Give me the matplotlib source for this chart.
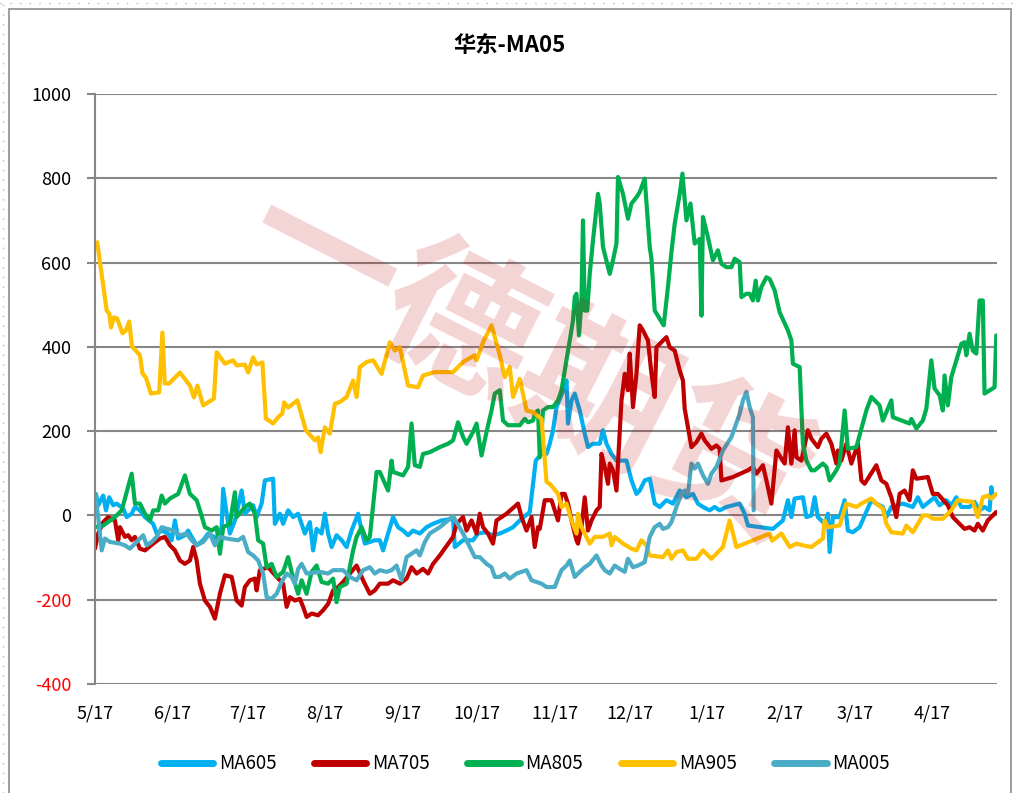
import matplotlib
matplotlib.use('Agg')
import matplotlib.pyplot as plt
from matplotlib.lines import Line2D
from matplotlib.patches import Rectangle

plt.rcParams['font.family'] = ['Liberation Sans Narrow', 'Noto Sans CJK SC', 'DejaVu Sans']
plt.rcParams['axes.unicode_minus'] = False

# x = days since 5/1, y = spread value
month_ticks = [0, 31, 61, 92, 123, 153, 184, 214, 245, 276, 304, 335]
month_labels = ['5/17', '6/17', '7/17', '8/17', '9/17', '10/17', '11/17',
                '12/17', '1/17', '2/17', '3/17', '4/17']

ma605_days = [0.4, 1.3, 3.3, 4.4, 5.7, 7.3, 8.7, 11.3, 12.7, 14.7, 16, 18, 20, 23.3, 24.7, 26.7,
              29.3, 30.7, 32, 33.3, 36, 37.3, 38.7, 40.7, 43.3, 45.3, 48.7, 50.7, 51.3, 52.7,
              54, 56, 58.7, 60, 63.3, 64.7, 66.7, 68, 71.3, 72, 74, 75.3, 77.3, 79.3, 81.3,
              84, 86, 87.3, 88.7, 90.7, 92, 93.3, 94.7, 96.7, 98.7, 100.7, 102.7, 105.3,
              106.7, 108, 112, 114, 115.3, 117.3, 119.3, 121.3, 123.3, 125.3, 127.3, 130,
              132.7, 135.3, 138.7, 143.3, 144, 147.3, 151.3, 153.3, 156, 159.3, 162, 164.7,
              167.3, 170, 174, 176.4, 178.7, 180.7, 182, 183.3, 184.7, 188, 188.7, 189.3,
              190.7, 192, 194, 196, 197.3, 199.3, 202, 203.3, 204.7, 206.7, 208.7, 212.7,
              214.7, 216.7, 218, 220, 222, 224, 226, 228.7, 231.3, 234, 236.7, 239.3, 241.3,
              243.3, 246, 248, 250, 252.7, 258, 260, 261.3, 271.3, 275.3, 277.3, 278.7, 280,
              283.3, 284.7, 286.7, 288, 289.3, 292, 293.3, 294, 295.3, 298, 300, 301.3,
              303.3, 306, 310.7, 312.7, 315.3, 316.7, 318.7, 323.3, 327.3, 329.3, 331.3,
              336, 338, 340.7, 342.7, 344.7, 346.7, 350, 352, 354, 356, 358, 358.7, 359.3]
ma605_vals = [51, 24, 47, 12, 43, 24, 28, 16, -4, 4, 20, 12, -4, -20, -43, -36,
              -43, -59, -12, -55, -47, -36, -51, -71, -59, -43, -55, -28, 63, 4,
              -43, -12, 59, 4, 24, -4, 28, 83, 87, -20, 4, -20, 12, -4, 4,
              -43, -16, -83, -32, -43, 4, -43, -75, -47, -59, -75, -36, 4,
              -36, -67, -59, -59, -83, -43, -4, -28, -36, -47, -36, -43,
              -28, -20, -12, -8, -75, -59, -59, -43, -40, -47, -43, -36,
              -28, -12, 8, 130, 146, 146, 170, 202, 257, 304, 320, 218,
              273, 289, 249, 194, 162, 170, 170, 202, 170, 146, 130, 130,
              83, 51, 59, 83, 87, 28, 20, 36, 28, 59, 43, 51, 28,
              20, 12, 20, 12, 20, 28, 4, -24, -32, -12, 36, -4, 40,
              43, -4, 0, 43, -4, -20, 4, -87, -4, -4, 36, -36,
              -40, -28, 36, 28, 20, -4, 20, 28, 20, 43, 20,
              43, 24, 36, 24, 43, 20, 20, 32, 12, 20, 12, 67, 43]

ma705_days = [0, 1.3, 3.3, 5.3, 8, 9.3, 10, 12, 13.3, 14.7, 16, 18, 20, 23.3, 26, 28, 30, 32,
              34, 36, 38, 39.3, 40.7, 42, 44, 46, 48, 50, 52, 54.7, 56.7, 58.7, 60, 62, 64,
              64.7, 66, 69.3, 72.7, 75.3, 76.7, 78, 80, 82, 83.3, 84.7, 86.7, 89.3, 91.3,
              93.3, 95.3, 97.3, 99.3, 102, 104.7, 107.3, 110, 112, 114, 117.3, 119.3, 122,
              124.7, 126.7, 128.7, 131.3, 133.3, 135.3, 138, 143.3, 144.7, 147.3, 148.7,
              150.7, 152.7, 154, 155.3, 157.3, 159.3, 160.7, 164.7, 169.3, 170.7, 172.7,
              174.7, 176, 177.3, 178, 180, 182.7, 185.3, 186.7, 188, 189.3, 190.7, 192.7,
              193.3, 194.7, 196, 197.3, 198.7, 200.7, 202, 202.7, 204, 205.3, 206, 207.3,
              208.7, 210.7, 212, 213.3, 214, 215.3, 216.7, 218, 219.3, 221.3, 222.7, 224,
              224.7, 226, 228.7, 230, 232, 234, 235.3, 236, 237.3, 238.7, 240.7, 242.7, 244,
              246.7, 248.7, 250, 250.7, 255.3, 261.3, 263.3, 264.7, 267.3, 268.7, 270.7,
              272.7, 276, 277.3, 278.7, 280, 280.7, 282.7, 285.3, 286.7, 289.3, 290.7,
              292.7, 294.7, 296.7, 297.3, 298.7, 300.7, 302.7, 305.3, 306.7, 308, 312.7,
              314.7, 316.7, 318.7, 320.7, 322, 324, 326, 327.3, 328.7, 333.3, 335.3, 337.3,
              341.3, 343.3, 346, 348, 350, 352, 353.3, 355.3, 357.3, 360.7]
ma705_vals = [-79, -43, -16, -4, -12, -59, -28, -51, -47, -59, -51, -79, -83, -67, -55, -51, -71, -83,
              -107, -115, -107, -75, -107, -162, -202, -217, -245, -186, -142, -146, -202, -214, -170, -154, -150,
              -178, -130, -123, -146, -162, -217, -194, -202, -198, -217, -241, -233, -237, -225,
              -210, -178, -170, -158, -138, -119, -154, -186, -178, -162, -162, -154, -162,
              -150, -123, -138, -127, -138, -115, -95, -51, -20, -4, -36,
              -12, -43, 4, -28, -43, -67, -12, 4, 28, -4, -36,
              -4, -75, -28, -32, 36, 36, -12, 51, 51, 28, -12, -59,
              -67, -28, 43, -36, -12, 12, 20, 146, 115, 75, 123, 107,
              59, 273, 336, 297, 384, 257, 336, 451, 439, 415, 336, 281,
              399, 407, 423, 399, 391, 344, 320, 253, 209, 162, 174, 194, 178,
              158, 166, 158, 83, 91, 107, 115, 99, 119, 83, 28,
              154, 123, 209, 123, 202, 138, 130, 202, 182, 162, 182,
              194, 170, 123, 154, 130, 170, 123, 170, 83, 75, 119,
              83, 75, 43, -4, 51, 59, 36, 107, 87, 91, 51, 51,
              24, -4, -20, -32, -28, -36, -20, -36, -12, 8]

ma805_days = [0, 3.3, 8, 10.7, 14.7, 16, 18, 20, 22, 23.3, 25.3, 26.7, 28, 30, 33.3, 36, 38, 40.7,
              42, 44, 46.7, 48.7, 50, 51.3, 54, 56, 56.7, 60, 62, 64, 65.3, 67.3, 68.7, 70.7,
              72.7, 75.3, 77.3, 78.7, 81.3, 82.7, 84.7, 86.7, 88.7, 90.7, 93.3, 95.3, 96.7,
              98, 100.7, 103.3, 104.7, 106.7, 108.7, 110, 112.7, 114, 117.3, 118.7, 119.3,
              123.3, 125.3, 126.7, 128, 130, 131.3, 134, 138, 141.3, 143.3, 145.3, 147.3,
              148.7, 151.3, 152.7, 154.7, 156.7, 158.7, 160, 162, 163.3, 165.3, 170, 172,
              173.3, 175.3, 176, 177.3, 178, 179.3, 181.3, 183.3, 185.3, 186.7, 188.7, 190,
              191.3, 192, 192.7, 193.7, 194.7, 195.3, 196, 197, 198, 199.3, 201.3, 202,
              203.3, 206, 207.3, 208.7, 209.3, 211.3, 213.3, 214.7, 216.7, 218, 220, 222,
              222.7, 224, 227.6, 228.7, 229.3, 230.7, 232, 234, 235.1, 236.7, 238.3, 240,
              242, 242.7, 243.3, 245.3, 247.3, 249.3, 250.7, 252.7, 254.7, 256, 258, 258.7,
              260.7, 262, 263.3, 264.4, 265.3, 266.7, 268.7, 270, 272, 274, 277.3, 278.7,
              279.3, 282, 283.3, 284.7, 286.7, 288, 291.3, 292.7, 294, 296.7, 298, 300,
              301.3, 304.7, 306, 308.7, 310.7, 314, 315.3, 318.7, 319.3, 326, 326.7, 328.7,
              331.3, 332.7, 334.7, 336, 338, 339.3, 340, 341.3, 342.7, 346.7, 348, 348.7,
              350, 351.3, 352.7, 354, 355.3, 356, 360, 360.7]
ma805_vals = [-28, -24, -4, 12, 99, 28, 28, 4, -12, 12, 12, 47, 28, 40, 51, 95, 51, 36,
              12, -28, -36, -28, -91, -28, -20, 55, -4, 20, 28, 4, -59, -67, -123, -115,
              -146, -134, -99, -134, -186, -154, -186, -134, -119, -158, -162, -150, -206,
              -170, -162, -83, -51, -28, -59, -51, 103, 103, 59, 130, 103,
              95, 115, 218, 119, 115, 146, 150, 162, 170, 178, 221, 186,
              170, 198, 218, 142, 198, 249, 289, 297, 225, 214, 214, 229,
              221, 225, 241, 249, 138, 249, 257, 257, 273, 297, 368, 415,
              463, 518, 526, 427, 510, 700, 486, 486, 573, 652, 763, 740,
              637, 573, 605, 645, 803, 763, 704, 740, 755, 767, 799, 637,
              609, 486, 451, 510, 542, 625, 692, 763, 811, 700, 740, 645,
              656, 474, 708, 660, 605, 629, 597, 589, 589, 609, 601, 518,
              526, 526, 510, 557, 510, 542, 565, 561, 534, 482, 439, 415,
              360, 352, 170, 130, 107, 107, 123, 115, 83, 107, 123, 249,
              158, 162, 190, 249, 281, 261, 225, 273, 233, 218, 229, 206,
              225, 253, 368, 301, 285, 249, 332, 261, 328, 407, 411, 380,
              431, 391, 384, 510, 510, 289, 304, 427]

ma905_days = [0.9, 4.7, 5.7, 6.4, 7.6, 8.9, 11, 12.4, 13.7, 14.8, 18, 19, 20.4, 22.4, 25.7, 27,
              27.9, 29.7, 34, 38, 39.6, 41, 43.3, 47.6, 48.7, 52, 55.3, 56.7, 60, 61.3, 63.3,
              64.7, 67, 68.4, 71.3, 73.3, 75, 75.7, 77.3, 81, 84.4, 88, 89.3, 90.3, 92, 94,
              96, 98, 100.7, 103.3, 104.7, 106, 108.7, 111.3, 114.7, 118, 120, 122, 125.3,
              129.3, 131.3, 136, 143.3, 147.3, 152, 152.7, 155.3, 158.7, 162, 164, 166,
              167.3, 170, 172.7, 175.3, 178.7, 180.7, 182.5, 185.3, 186.7, 188.7, 190.7,
              192.7, 193.3, 194.7, 198, 200, 203.3, 206, 206.7, 208, 211.3, 214.7, 216.7,
              218.7, 220.7, 222, 227.3, 229.3, 230.7, 232.7, 235.3, 237.3, 240.7, 243.3,
              246.7, 251.3, 254, 256.7, 270, 271, 274.7, 278, 280.7, 283.3, 286.7, 291.3,
              292, 293.3, 298, 300.7, 304.7, 306.7, 310.7, 312.7, 315.3, 316.7, 318.7,
              323.3, 324.7, 327.3, 331.3, 333.3, 335.3, 339.3, 342.7, 345.3, 351.3, 353.3,
              355.3, 357.3, 358.7, 360.7]
ma905_vals = [648, 486, 479, 446, 470, 467, 432, 439, 460, 401, 380, 337, 327, 289, 292, 434,
              313, 313, 339, 308, 280, 308, 261, 277, 387, 360, 368, 356, 358, 339, 375,
              358, 363, 230, 218, 233, 242, 268, 256, 273, 202, 178, 185, 150, 209, 194,
              265, 269, 281, 320, 281, 352, 364, 368, 336, 411, 391, 399, 308,
              304, 332, 340, 340, 364, 380, 368, 411, 451, 380, 328, 352,
              281, 324, 249, 245, 229, 80, 72, 51, 20, 28, -12,
              -43, 4, -28, -67, -51, -51, -43, -71, -51, -67, -79, -83,
              -59, -71, -95, -99, -83, -103, -87, -83, -103, -103, -83,
              -103, -75, -12, -75, -43, -60, -43, -75, -67, -71, -75, -55,
              -12, -28, -24, 28, 20, 28, 40, 28, 16, -20, -40,
              -43, -24, -40, 0, 0, -8, -8, 12, 36, 32, -4,
              43, 47, 40, 51]

ma005_days = [0, 1.3, 2.7, 4, 6, 10, 12, 14, 16, 19.3, 20.7, 22.7, 24.7, 26.7, 31.3, 34, 36.7,
              38.7, 40.7, 43.3, 46, 48, 50, 52.7, 57.3, 59.3, 61.3, 63.3, 65.3, 67.3, 68.7,
              70.7, 72.7, 74.7, 76.7, 78.7, 80, 81.3, 82.7, 84.7, 90, 93.3, 95.3, 99.3, 102,
              104.7, 107.3, 110, 112, 114, 116.7, 118.7, 120.7, 122.7, 124.7, 126.7, 128.7,
              130, 132, 134, 138, 143.3, 147.3, 150, 152, 154, 156.7, 158.7, 160, 162, 164,
              166, 168.7, 172.7, 174.7, 178.7, 180.7, 184, 185.3, 186.7, 188.7, 190, 192,
              194, 196, 198, 200.7, 202.7, 204, 206, 208, 210, 212, 213.3, 215.3, 217.3,
              220, 222, 224, 226, 227.3, 229.3, 230.7, 232.7, 234.7, 236, 237.3, 238.7, 240,
              241.3, 243.3, 245.3, 246.7, 248.7, 251.3, 254.7, 258, 259.3, 260.7, 262,
              263.3, 263.6]
ma005_vals = [51, -4, -83, -55, -63, -67, -71, -79, -67, -47, -71, -63, -51, -28, -36, -47, -43,
              -59, -71, -63, -43, -71, -51, -55, -59, -51, -87, -95, -107, -138, -194,
              -198, -186, -158, -138, -146, -162, -127, -115, -138, -134, -138, -130, -130, -146,
              -154, -130, -123, -138, -130, -134, -130, -119, -154, -99, -91, -83,
              -95, -63, -43, -28, -2, -43, -75, -99, -99, -115, -123, -146, -146, -138,
              -150, -138, -130, -154, -162, -170, -170, -150, -130, -119, -107, -146,
              -134, -123, -115, -95, -119, -130, -138, -119, -127, -134, -103, -123, -119,
              -111, -51, -28, -20, -32, -28, -16, 20, 51, 59, 51, 123, 111,
              123, 95, 75, 99, 115, 154, 186, 241, 273, 293, 257,
              233, 12]

series = [
    ('MA605', ma605_days, ma605_vals, '#00B0F0'),
    ('MA705', ma705_days, ma705_vals, '#C00000'),
    ('MA805', ma805_days, ma805_vals, '#00B050'),
    ('MA905', ma905_days, ma905_vals, '#FFC000'),
    ('MA005', ma005_days, ma005_vals, '#4BACC6'),
]

fig = plt.figure(figsize=(10.2, 7.93), dpi=100)
ax = fig.add_axes([0.0931, 0.1375, 0.8844, 0.744])

for name, d, v, c in series:
    ax.plot(d, v, color=c, lw=3, label=name, solid_joinstyle='round', solid_capstyle='round')

ax.set_xlim(0, 361)
ax.set_ylim(-400, 1000)
ax.set_yticks(range(-400, 1001, 200))
ax.grid(axis='y', color='#868686', lw=1.5)
ax.set_axisbelow(True)
ax.set_xticks(month_ticks)
ax.set_xticklabels(month_labels, fontsize=13)
ax.tick_params(axis='x', length=0, pad=15)
ax.tick_params(axis='y', length=6, width=1.5, color='#868686', pad=11, labelsize=13)
for lab in ax.get_yticklabels():
    if lab.get_text().startswith('-'):
        lab.set_color('red')
for s in ['top', 'right', 'bottom']:
    ax.spines[s].set_visible(False)
ax.spines['left'].set_color('#868686')
ax.spines['left'].set_linewidth(1.5)

# watermark
fig.text(0.515, 0.54, '一德期货', fontsize=110, color='#C00000', alpha=0.17,
         rotation=-27, ha='center', va='center', family=['Noto Sans CJK SC'],
         fontweight='bold', zorder=10)

fig.text(0.5, 0.943, '华东-MA05', fontsize=16, fontweight='bold', ha='center', va='center',
         family=['Noto Sans CJK SC', 'DejaVu Sans'])

handles = [Line2D([0], [0], color=c, lw=5, solid_capstyle='round') for _, _, _, c in series]
fig.legend(handles, [s[0] for s in series], loc='center', bbox_to_anchor=(0.515, 0.037),
           ncol=5, frameon=False, fontsize=13.5, handlelength=2.8, handletextpad=0.3,
           columnspacing=2.0)

# chart border and sheet gridlines
fig.add_artist(Rectangle((0.009, -0.01), 0.982, 0.999, transform=fig.transFigure,
                         fill=False, edgecolor='#8c8c8c', lw=1.2))
fig.add_artist(Line2D([0.003, 0.003], [0, 1], transform=fig.transFigure, color='#bbbbbb',
                      lw=1, ls=(0, (1, 6))))
fig.add_artist(Line2D([0, 1], [0.996, 0.996], transform=fig.transFigure, color='#bbbbbb',
                      lw=1, ls=(0, (1, 6))))

fig.savefig('out.png', dpi=100)
